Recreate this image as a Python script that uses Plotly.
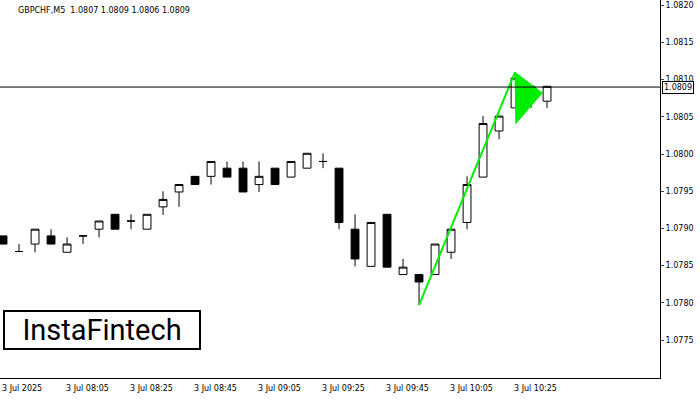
import plotly.graph_objects as go

idx = list(range(35))
opens  = [1.07890,1.07869,1.07879,1.07890,1.07868,1.07890,1.07899,1.07919,1.07910,1.07899,
          1.07929,1.07949,1.07970,1.07970,1.07981,1.07981,1.07959,1.07981,1.07969,1.07981,
          1.07990,1.07981,1.07899,1.07849,1.07919,1.07838,1.07838,1.07838,1.07868,1.07908,
          1.07969,1.08031,1.08062,1.08091,1.08071]
highs  = [1.07890,1.07879,1.07899,1.07899,1.07888,1.07890,1.07910,1.07919,1.07919,1.07919,
          1.07950,1.07959,1.07970,1.07990,1.07990,1.07990,1.07990,1.07981,1.07990,1.08001,
          1.08001,1.07981,1.07919,1.07908,1.07919,1.07859,1.07838,1.07879,1.07899,1.07970,
          1.08051,1.08051,1.08102,1.08091,1.08091]
lows   = [1.07879,1.07869,1.07868,1.07879,1.07868,1.07879,1.07888,1.07899,1.07899,1.07899,
          1.07918,1.07929,1.07959,1.07959,1.07969,1.07949,1.07949,1.07959,1.07969,1.07981,
          1.07981,1.07899,1.07849,1.07849,1.07848,1.07838,1.07797,1.07838,1.07859,1.07899,
          1.07969,1.08020,1.08062,1.08062,1.08062]
closes = [1.07879,1.07869,1.07899,1.07879,1.07879,1.07890,1.07910,1.07899,1.07910,1.07919,
          1.07939,1.07959,1.07959,1.07990,1.07969,1.07949,1.07970,1.07959,1.07990,1.08001,
          1.07990,1.07908,1.07859,1.07908,1.07848,1.07848,1.07828,1.07879,1.07899,1.07959,
          1.08041,1.08051,1.08102,1.08082,1.08091]

tick_idx = [0,4,8,12,16,20,24,28,32]
tick_text = ["3 Jul 2025","3 Jul 08:05","3 Jul 08:25","3 Jul 08:45","3 Jul 09:05",
             "3 Jul 09:25","3 Jul 09:45","3 Jul 10:05","3 Jul 10:25"]
price_ticks = [1.0775,1.0780,1.0785,1.0790,1.0795,1.0800,1.0805,1.0810,1.0815,1.0820]
current_price = 1.0809

pole_x = [26, 32]
pole_y = [1.07797, 1.08110]
flag_x = [32, 32.05, 33.7]
flag_y = [1.08110, 1.08041, 1.08082]

fig = go.Figure()
fig.add_trace(go.Candlestick(
    x=idx, open=opens, high=highs, low=lows, close=closes,
    increasing=dict(line=dict(color="black", width=1), fillcolor="white"),
    decreasing=dict(line=dict(color="black", width=1), fillcolor="black"),
    whiskerwidth=0, showlegend=False, hoverinfo="skip"))
fig.add_trace(go.Scatter(x=pole_x, y=pole_y, mode="lines",
                         line=dict(color="#00ee00", width=2), showlegend=False))
fig.add_trace(go.Scatter(x=flag_x + [flag_x[0]], y=flag_y + [flag_y[0]], mode="lines",
                         fill="toself", fillcolor="#00ee00", line=dict(color="#00ee00", width=1),
                         showlegend=False))

fig.add_hline(y=current_price, line=dict(color="black", width=1))

for t, lab in zip(tick_idx, tick_text):
    fig.add_annotation(x=t, y=0, xref="x", yref="paper", yanchor="top", xanchor="left",
                       text=lab, showarrow=False, font=dict(size=8, color="black"),
                       xshift=-3, yshift=-4)
fig.add_annotation(x=1, y=current_price, xref="paper", yref="y", xanchor="left",
                   text=f"{current_price:.4f}", showarrow=False,
                   font=dict(size=8, color="black"), bgcolor="white",
                   bordercolor="black", borderwidth=1, borderpad=1, xshift=2)
fig.add_annotation(x=0, y=1, xref="paper", yref="paper", xanchor="left", yanchor="top",
                   text="GBPCHF,M5  1.0807 1.0809 1.0806 1.0809", showarrow=False,
                   font=dict(size=8, color="black"), xshift=16, yshift=-4)
fig.add_annotation(x=0, y=0, xref="paper", yref="paper", xanchor="left", yanchor="bottom",
                   text="InstaFintech", showarrow=False, width=192, height=34, align="center",
                   font=dict(size=29, color="black", family="Roboto"),
                   bgcolor="white", bordercolor="black", borderwidth=2, borderpad=1,
                   xshift=3, yshift=28)

fig.update_layout(
    width=700, height=400, margin=dict(l=0, r=40, t=0, b=22),
    paper_bgcolor="white", plot_bgcolor="white",
    font=dict(family="DejaVu Sans", size=8, color="black"),
    xaxis=dict(range=[-0.19, 41.06], showgrid=False, zeroline=False, showticklabels=False,
               rangeslider=dict(visible=False), showline=True, linecolor="black", mirror=True,
               ticks=""),
    yaxis=dict(range=[1.07699, 1.08207], side="right", tickvals=price_ticks,
               ticktext=[f"{p:.4f}" for p in price_ticks], showgrid=False, zeroline=False,
               showline=True, linecolor="black", mirror=True, ticks="outside", ticklen=3,
               tickfont=dict(size=8)),
)
fig.write_html("out.html", config={"displayModeBar": False},
               post_script="document.body.style.margin='0';")
